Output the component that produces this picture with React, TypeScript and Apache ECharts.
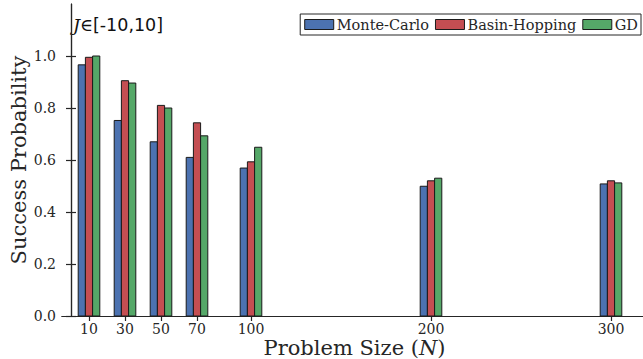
import React, { useEffect, useRef } from "react";
import * as echarts from "echarts";

const sizes = [10, 30, 50, 70, 100, 200, 300];
const monteCarlo = [0.966, 0.752, 0.67, 0.61, 0.569, 0.499, 0.508];
const basinHopping = [0.995, 0.905, 0.81, 0.743, 0.593, 0.52, 0.52];
const gd = [1.0, 0.896, 0.8, 0.693, 0.649, 0.53, 0.512];
const seriesNames = ["Monte-Carlo", "Basin-Hopping", "GD"];
const seriesColors = ["#4C72B0", "#C44E52", "#55A868"];
const yTicks = [0, 0.2, 0.4, 0.6, 0.8, 1.0];

const SERIF = "'DejaVu Serif', serif";
const SANS = "'DejaVu Sans', sans-serif";
const BAR_W = 4; // in data units
const OFFSETS = [-4, 0, 4];

export default function App() {
  const ref = useRef<HTMLDivElement>(null);
  useEffect(() => {
    document.body.style.margin = "0";
    const chart = echarts.init(ref.current!, null, { renderer: "svg" });
    const allSeries = [monteCarlo, basinHopping, gd];
    const series = allSeries.map((vals, si) => ({
      type: "custom",
      name: seriesNames[si],
      xAxisIndex: 0,
      yAxisIndex: 0,
      itemStyle: { color: seriesColors[si] },
      encode: { x: 0, y: 1 },
      data: sizes.map((s, i) => [s, vals[i]]),
      renderItem: (params: any, api: any) => {
        const x = api.value(0);
        const y = api.value(1);
        const p0 = api.coord([x + OFFSETS[si] - BAR_W / 2, 0]);
        const p1 = api.coord([x + OFFSETS[si] + BAR_W / 2, y]);
        return {
          type: "rect",
          shape: { x: p0[0], y: p1[1], width: p1[0] - p0[0], height: p0[1] - p1[1] },
          style: { fill: seriesColors[si], stroke: "#1a1a1a", lineWidth: 1 },
        };
      },
    }));
    const axisLineStyle = { color: "#262626", width: 1.2 };
    chart.setOption({
      animation: false,
      grid: { left: 62, right: -4, top: 4, bottom: 43, outerBoundsMode: "none", containLabel: false },
      legend: {
        data: seriesNames.map((n) => ({ name: n, icon: "rect" })),
        right: 2,
        top: 14,
        itemWidth: 29,
        itemHeight: 10,
        itemGap: 6,
        padding: [3, 3, 3, 4],
        borderColor: "#262626",
        borderWidth: 1,
        borderRadius: 0,
        backgroundColor: "#fff",
        itemStyle: { borderColor: "#1a1a1a", borderWidth: 1 },
        textStyle: { fontFamily: SERIF, fontSize: 14.5, color: "#262626", padding: [0, 0, 0, -2] },
      },
      xAxis: [
        {
          type: "value",
          min: -5,
          max: 320,
          position: "bottom",
          axisLine: { show: true, lineStyle: axisLineStyle },
          axisTick: { show: true, inside: true, length: 5, customValues: sizes, lineStyle: axisLineStyle },
          axisLabel: {
            customValues: sizes,
            fontFamily: SERIF,
            fontSize: 14,
            color: "#262626",
            margin: 6,
          },
          splitLine: { show: false },
          name: "Problem Size ({i|N})",
          nameLocation: "middle",
          nameGap: 21,
          nameMoveOverlap: false,
          nameTextStyle: {
            fontFamily: SERIF,
            fontSize: 21,
            color: "#262626",
            rich: { i: { fontFamily: SERIF, fontStyle: "italic", fontSize: 21, color: "#262626" } },
          },
        },
        {
          type: "value",
          min: -5,
          max: 320,
          position: "top",
          axisLine: { show: true, lineStyle: axisLineStyle },
          axisTick: { show: true, inside: true, length: 5, customValues: sizes, lineStyle: axisLineStyle },
          axisLabel: { show: false },
          splitLine: { show: false },
        },
      ],
      yAxis: [
        {
          type: "value",
          min: 0,
          max: 1.2,
          interval: 0.2,
          position: "left",
          axisLine: { show: true, lineStyle: axisLineStyle },
          axisTick: { show: true, inside: true, length: 5, customValues: yTicks, lineStyle: axisLineStyle },
          axisLabel: {
            customValues: yTicks,
            formatter: (v: number) => v.toFixed(1),
            fontFamily: SERIF,
            fontSize: 14,
            color: "#262626",
            margin: 6,
          },
          splitLine: { show: false },
          name: "Success Probability",
          nameLocation: "middle",
          nameGap: 33,
          nameMoveOverlap: false,
          nameTextStyle: { fontFamily: SERIF, fontSize: 21, color: "#262626" },
        },
        {
          type: "value",
          min: 0,
          max: 1.2,
          interval: 0.2,
          position: "right",
          axisLine: { show: true, lineStyle: axisLineStyle },
          axisTick: { show: true, inside: true, length: 5, customValues: yTicks, lineStyle: axisLineStyle },
          axisLabel: { show: false },
          splitLine: { show: false },
        },
      ],
      graphic: [
        {
          type: "text",
          left: 73,
          top: 16,
          style: {
            text: "{j|J}{e|∈}{s|[-10,10]}",
            rich: {
              j: { fontFamily: SERIF, fontStyle: "italic", fontSize: 17.5, fill: "#111" },
              e: { fontFamily: SERIF, fontSize: 17.5, fill: "#111" },
              s: { fontFamily: SANS, fontSize: 17.5, fill: "#111" },
            },
          },
        },
      ],
      series,
    });
    return () => chart.dispose();
  }, []);
  return <div ref={ref} style={{ width: 643, height: 359 }} />;
}
